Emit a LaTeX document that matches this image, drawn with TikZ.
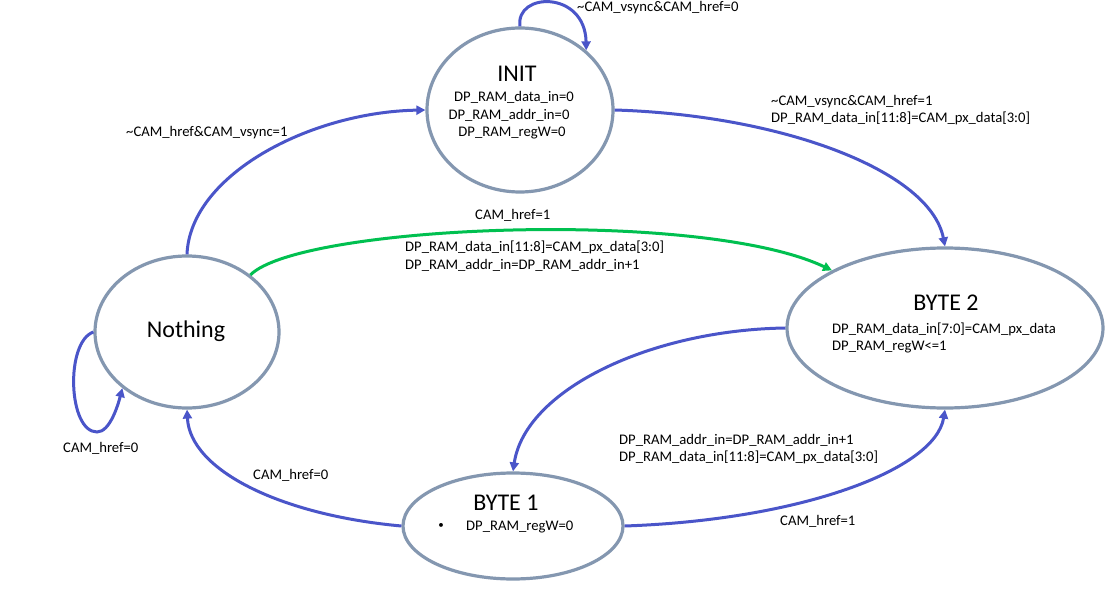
\documentclass[tikz,border=0pt]{standalone}
\usepackage{fontspec}
\setmainfont{Carlito}
\usetikzlibrary{arrows.meta,shapes.geometric}
\definecolor{stateline}{HTML}{8497B0}
\definecolor{edgeblue}{HTML}{4A55C9}
\definecolor{edgegreen}{HTML}{00C050}
\begin{document}
\begin{tikzpicture}[x=1pt,y=-1pt,
  state/.style={ellipse, draw=stateline, line width=3.2pt, fill=white, inner sep=0pt},
  trans/.style={draw=edgeblue, line width=3pt, -{Triangle[length=9pt,width=9pt]}},
  transg/.style={draw=edgegreen, line width=3pt, -{Triangle[length=9pt,width=9pt]}},
  lbl/.style={font=\fontsize{14.67}{17.5}\selectfont, inner sep=0pt, text=black},
  ttl/.style={font=\fontsize{24}{28}\selectfont, inner sep=0pt, text=black}]
\useasboundingbox[fill=white] (0,0) rectangle (1116,596);

% states
\node[state, minimum width=186pt, minimum height=164pt] (init) at (520,110) {};
\node[state, minimum width=184pt, minimum height=152pt] (nothing) at (187,332) {};
\node[state, minimum width=316pt, minimum height=160pt] (byte2) at (945,328) {};
\node[state, minimum width=220pt, minimum height=106pt] (byte1) at (513,526) {};

% state texts
\node[ttl] (initT) at (517,74) {INIT};
\node[lbl] (initA) at (514,97) {DP\_RAM\_data\_in=0};
\node[lbl] (initB) at (509,115) {DP\_RAM\_addr\_in=0};
\node[lbl] (initC) at (512,133) {DP\_RAM\_regW=0};
\node[ttl] (nothingT) at (186,331) {Nothing};
\node[ttl] (byte2T) at (946,303) {BYTE 2};
\node[lbl, anchor=west, align=left] (byte2L) at (832,338) {DP\_RAM\_data\_in[7:0]=CAM\_px\_data\\DP\_RAM\_regW<=1};
\node[ttl] (byte1T) at (506,503) {BYTE 1};
\node[lbl, font=\fontsize{11}{12}\selectfont] (byte1B) at (441,526) {\textbullet};
\node[lbl, anchor=west] (byte1L) at (466,527) {DP\_RAM\_regW=0};

% transitions
\draw[trans] (init.north) .. controls (515,-8) and (585,-10) .. (init.42);
\draw[trans] (nothing.north) .. controls (190,175) and (310,112) .. (init.west);
\draw[trans] (init.east) .. controls (780,115) and (930,170) .. (byte2.north);
\draw[transg] (nothing.42) .. controls (300,225) and (700,208) .. (byte2.153);
\draw[trans] (byte2.west) .. controls (650,330) and (525,390) .. (byte1.north);
\draw[trans] (byte1.east) .. controls (800,520) and (935,470) .. (byte2.south);
\draw[trans] (byte1.west) .. controls (280,515) and (190,470) .. (nothing.south);
\coordinate (loopB) at (97,432);
\draw[trans] (nothing.west) .. controls (65,342) and (68,432) .. (loopB) .. controls (110,432) and (118,405) .. (nothing.221);

% transition labels
\node[lbl, anchor=west] (l1) at (577,8) {\textasciitilde CAM\_vsync\&CAM\_href=0};
\node[lbl, anchor=west] (l2) at (126,133) {\textasciitilde CAM\_href\&CAM\_vsync=1};
\node[lbl, anchor=west, align=left] (l3) at (771,110) {\textasciitilde CAM\_vsync\&CAM\_href=1\\DP\_RAM\_data\_in[11:8]=CAM\_px\_data[3:0]};
\node[lbl, anchor=west] (l4) at (475,215) {CAM\_href=1};
\node[lbl, anchor=west, align=left] (l5) at (405,256) {DP\_RAM\_data\_in[11:8]=CAM\_px\_data[3:0]\\DP\_RAM\_addr\_in=DP\_RAM\_addr\_in+1};
\node[lbl, anchor=west, align=left] (l6) at (619,449) {DP\_RAM\_addr\_in=DP\_RAM\_addr\_in+1\\DP\_RAM\_data\_in[11:8]=CAM\_px\_data[3:0]};
\node[lbl, anchor=west] (l7) at (780,521) {CAM\_href=1};
\node[lbl, anchor=west] (l8) at (253,475) {CAM\_href=0};
\node[lbl, anchor=west] (l9) at (63,448) {CAM\_href=0};
\end{tikzpicture}
\end{document}
